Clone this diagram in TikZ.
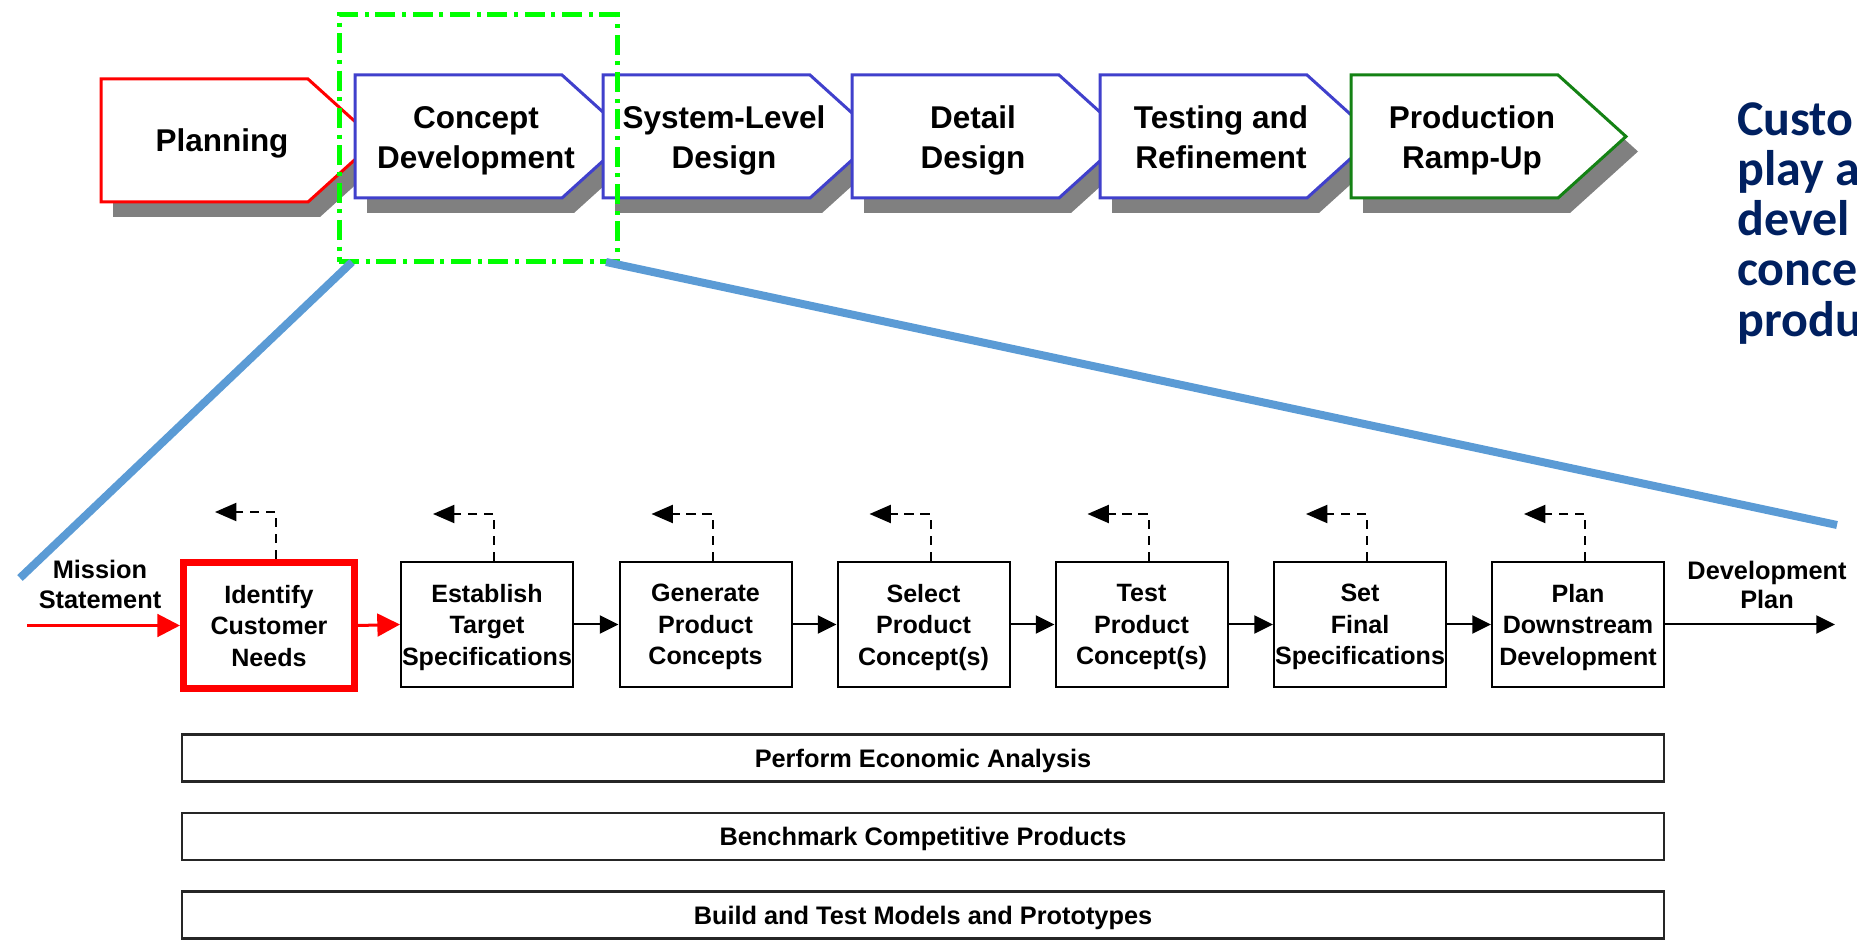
\documentclass[tikz,border=0pt]{standalone}
\usepackage{fontspec}
\setmainfont{Liberation Sans}
\newfontfamily\notefont{Carlito}
\usetikzlibrary{arrows.meta,calc}

\definecolor{chevblue}{RGB}{64,64,204}
\definecolor{chevred}{RGB}{255,0,0}
\definecolor{chevgreen}{RGB}{20,130,20}
\definecolor{zoomgreen}{RGB}{0,255,0}
\definecolor{zoomblue}{RGB}{91,155,213}
\definecolor{notenavy}{RGB}{0,32,96}
\definecolor{shadowgray}{RGB}{128,128,128}

% phase chevron: #1 left x, #2 top y, #3 outline colour, #4 node name, #5 label, #6 label drop
\newcommand\stagechev[6]{%
  \fill[shadowgray] ({#1+12},{#2+15}) -- ++(207,0) -- ++(68,61.5) -- ++(-68,61.5) -- ++(-207,0) -- cycle;
  \draw[#3, line width=2.25pt, fill=white, line join=miter]
    (#1,#2) -- ++(207,0) -- ++(68,61.5) -- ++(-68,61.5) -- ++(-207,0) -- cycle;
  \node[stagetext] (#4) at ({#1+121},{#2+61.5+#6}) {#5};
}

\begin{document}
\begin{tikzpicture}[x=0.75pt,y=-0.75pt,
  stagetext/.style={font=\bfseries\fontsize{23.6pt}{30pt}\selectfont, align=center, inner sep=0pt, text depth=0pt},
  stepbox/.style={draw=black, line width=1.5pt, fill=white, minimum width=129pt, minimum height=93.75pt,
    inner sep=0pt, align=center, text depth=0pt, font=\bfseries\fontsize{18.8pt}{23.6pt}\selectfont},
  keystep/.style={stepbox, draw=red, line width=5.25pt, minimum width=128.25pt, minimum height=94.5pt},
  barbox/.style={draw=black!85, line width=1.6pt, minimum width=1111.5pt, minimum height=35.25pt,
    inner sep=0pt, text depth=0pt, font=\bfseries\fontsize{19pt}{23pt}\selectfont},
  iolabel/.style={align=center, inner sep=0pt, font=\bfseries\fontsize{19pt}{22pt}\selectfont},
  flowarrow/.style={draw=black, line width=1.5pt, -{Triangle[length=14pt,width=13.5pt]}},
  redflow/.style={draw=red, line width=2.25pt, -{Triangle[length=17pt,width=17pt]}},
  fbarrow/.style={draw=black, line width=1.5pt, dash pattern=on 7pt off 5pt, -{Triangle[length=16pt,width=13.5pt]}},
  zoomline/.style={draw=zoomblue, line width=6pt},
  focusbox/.style={draw=zoomgreen, line width=3.75pt, dash pattern=on 15pt off 5pt on 3pt off 5pt,
    minimum width=208.5pt, minimum height=185.25pt, inner sep=0pt},
]
\useasboundingbox (0,0) rectangle (1857,944);
\clip (0,0) rectangle (1857,944);

% ---- product development phases ----
\stagechev{101}{79}{chevred}{planning}{Planning}{-0.8}
\stagechev{355}{75}{chevblue}{concept}{Concept\\Development}{0.7}
\stagechev{603}{75}{chevblue}{system}{System-Level\\Design}{0.7}
\stagechev{852}{75}{chevblue}{detail}{Detail\\Design}{0.7}
\stagechev{1100}{75}{chevblue}{testing}{Testing and\\Refinement}{0.7}
\stagechev{1351}{75}{chevgreen}{rampup}{Production\\Ramp-Up}{0.7}

% ---- highlighted phase and its expansion ----
\node[focusbox] (focus) at (478,138.5) {};
\coordinate (focusL) at (352,262);
\coordinate (focusR) at (606,262);
\coordinate (expandL) at (20,578);
\coordinate (expandR) at (1837,525);
\draw[zoomline] (focusL) -- (expandL);
\draw[zoomline] (focusR) -- (expandR);

% ---- concept development activities ----
\node[keystep] (b1) at (269,625.5) {Identify\\Customer\\Needs};
\node[stepbox] (b2) at (487,624.5) {Establish\\Target\\Specifications};
\node[stepbox] (b3) at (705.5,624.5) {Generate\\Product\\Concepts};
\node[stepbox] (b4) at (923.5,624.5) {Select\\Product\\Concept(s)};
\node[stepbox] (b5) at (1141.5,624.5) {Test\\Product\\Concept(s)};
\node[stepbox] (b6) at (1360,624.5) {Set\\Final\\Specifications};
\node[stepbox] (b7) at (1578,624.5) {Plan\\Downstream\\Development};

% feedback arrows above each activity
\foreach \i in {1,...,7}{
  \draw[fbarrow] ($(b\i.north)+(7,0)$) -- ($(b\i.north)+(7,-47)$) -- ($(b\i.north)+(-54,-47)$);
}

% inputs and outputs
\coordinate (missionIn) at (27,625.5);
\coordinate (planOut) at (1835,624.5);
\node[iolabel] (mission) at (100,584.5) {Mission\\Statement};
\node[iolabel] (devplan) at (1767,585) {Development\\Plan};

\draw[redflow] (missionIn) -- (b1.west);
\draw[redflow] (b1.east) -- (b2.west);
\draw[flowarrow] (b2.east) -- (b3.west);
\draw[flowarrow] (b3.east) -- (b4.west);
\draw[flowarrow] (b4.east) -- (b5.west);
\draw[flowarrow] (b5.east) -- (b6.west);
\draw[flowarrow] (b6.east) -- (b7.west);
\draw[flowarrow] (b7.east) -- (planOut);

% parallel activities
\node[barbox] (econ) at (923,758) {Perform Economic Analysis};
\node[barbox] (bench) at (923,836.5) {Benchmark Competitive Products};
\node[barbox] (proto) at (923,915) {Build and Test Models and Prototypes};

% side note
\node[anchor=north west, align=left, inner sep=0pt, text=notenavy,
  font=\notefont\bfseries\fontsize{37.5pt}{37.7pt}\selectfont] (note) at (1737,102)
  {Custo\\play a\\devel\\conce\\produ};
\end{tikzpicture}
\end{document}
